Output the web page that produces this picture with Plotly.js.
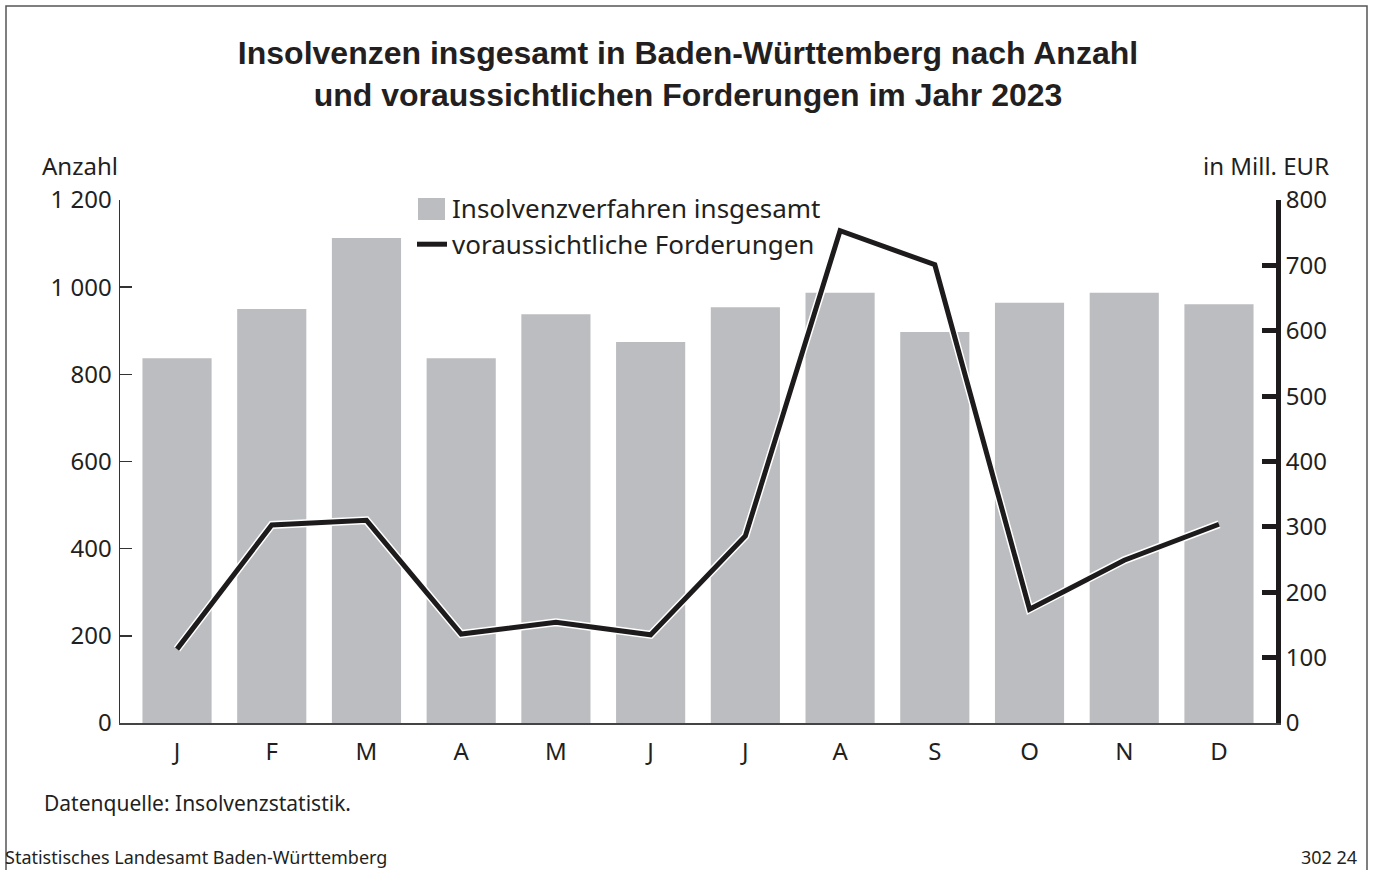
<!DOCTYPE html>
<html>
<head>
<meta charset="utf-8">
<script src="https://cdn.plot.ly/plotly-3.0.1.min.js"></script>
<style>
  html, body { margin: 0; padding: 0; background: #fff; }
  #chart { width: 1375px; height: 870px; }
</style>
</head>
<body>
<div id="chart"></div>
<script>
// ---- data ----
const monthLabels = ["J", "F", "M", "A", "M", "J", "J", "A", "S", "O", "N", "D"];
const insolvencies = [837, 950, 1113, 837, 938, 874, 954, 987, 897, 964, 987, 961];
const claimsMillEUR = [113, 303, 310, 136, 154, 135, 286, 753, 701, 174, 249, 304];
const leftTickVals = [0, 200, 400, 600, 800, 1000, 1200];
const leftTickText = ["0", "200", "400", "600", "800", "1 000", "1 200"];
const rightTickVals = [0, 100, 200, 300, 400, 500, 600, 700, 800];
const rightTickText = ["0", "100", "200", "300", "400", "500", "600", "700", "800"];
const titleLine1 = "Insolvenzen insgesamt in Baden-Württemberg nach Anzahl";
const titleLine2 = "und voraussichtlichen Forderungen im Jahr 2023";

const FONT = "'Noto Sans', 'Open Sans', sans-serif";
const TITLE_FONT = "'Liberation Sans', Arial, sans-serif";
const TXT = "#231f20";
const BAR_COLOR = "#bcbdc1";
const xIdx = monthLabels.map((_, i) => i);

const traces = [
  {
    type: "bar", x: xIdx, y: insolvencies, yaxis: "y",
    name: "Insolvenzverfahren insgesamt",
    marker: { color: BAR_COLOR }, width: 0.73
  },
  {
    type: "scatter", mode: "lines", x: xIdx, y: claimsMillEUR, yaxis: "y2",
    line: { color: "#ffffff", width: 8 }, showlegend: false, hoverinfo: "skip"
  },
  {
    type: "scatter", mode: "lines", x: xIdx, y: claimsMillEUR, yaxis: "y2",
    name: "voraussichtliche Forderungen",
    line: { color: "#1e1b1c", width: 5 }
  }
];

// paper coordinate helpers (plot area: x 120..1276, y 200..723)
const L = 120, R = 99, T = 200, B = 147, W = 1375, H = 870;
const pw = W - L - R, ph = H - T - B;
const px = v => (v - L) / pw;
const py = v => (H - B - v) / ph;

const layout = {
  width: W, height: H,
  margin: { l: L, r: R, t: T, b: B, pad: 0 },
  paper_bgcolor: "#ffffff", plot_bgcolor: "#ffffff",
  font: { family: FONT, size: 24, color: TXT },
  hovermode: false,
  showlegend: true,
  title: {
    text: "<b>" + titleLine1 + "<br>" + titleLine2 + "</b>",
    font: { family: TITLE_FONT, size: 32, color: TXT },
    x: 688 / W, xref: "container", xanchor: "center",
    y: 1 - 64 / H, yref: "container", yanchor: "middle"
  },
  xaxis: {
    range: [-0.602, 11.602],
    tickmode: "array", tickvals: xIdx, ticktext: monthLabels,
    showline: true, linecolor: "#444", linewidth: 2,
    ticks: "", showgrid: false, zeroline: false,
    tickfont: { family: FONT, size: 24, color: TXT },
    ticklabelstandoff: 6, fixedrange: true
  },
  yaxis: {
    range: [0, 1200],
    tickmode: "array", tickvals: leftTickVals, ticktext: leftTickText,
    showline: true, linecolor: "#333", linewidth: 1.5,
    ticks: "inside", ticklen: 12, tickwidth: 1.5, tickcolor: "#333",
    showgrid: false, zeroline: false,
    tickfont: { family: FONT, size: 24, color: TXT },
    ticklabelstandoff: 2, fixedrange: true
  },
  yaxis2: {
    range: [0, 800], overlaying: "y", side: "right",
    tickmode: "array", tickvals: rightTickVals, ticktext: rightTickText,
    showline: true, linecolor: "#1e1b1c", linewidth: 5,
    ticks: "inside", ticklen: 14, tickwidth: 5, tickcolor: "#1e1b1c",
    showgrid: false, zeroline: false,
    tickfont: { family: FONT, size: 24, color: TXT },
    ticklabelstandoff: 0, fixedrange: true
  },
  legend: {
    x: px(412), y: py(184), xanchor: "left", yanchor: "top",
    bgcolor: "rgba(255,255,255,0)", borderwidth: 0,
    font: { family: FONT, size: 26, color: TXT },
    tracegroupgap: 0, itemwidth: 30, traceorder: "normal"
  },
  annotations: [
    { text: "Anzahl", xref: "paper", yref: "paper", x: px(40), y: py(166),
      xanchor: "left", yanchor: "middle", showarrow: false,
      font: { family: FONT, size: 24, color: TXT } },
    { text: "in Mill. EUR", xref: "paper", yref: "paper", x: px(1331), y: py(166),
      xanchor: "right", yanchor: "middle", showarrow: false,
      font: { family: FONT, size: 24, color: TXT } },
    { text: "Datenquelle: Insolvenzstatistik.", xref: "paper", yref: "paper", x: px(42), y: py(803),
      xanchor: "left", yanchor: "middle", showarrow: false,
      font: { family: FONT, size: 21, color: TXT } },
    { text: "Statistisches Landesamt Baden-Württemberg", xref: "paper", yref: "paper", x: px(3), y: py(857),
      xanchor: "left", yanchor: "middle", showarrow: false,
      font: { family: FONT, size: 18, color: TXT } },
    { text: "302 24", xref: "paper", yref: "paper", x: px(1359), y: py(857),
      xanchor: "right", yanchor: "middle", showarrow: false,
      font: { family: FONT, size: 18, color: TXT } }
  ],
  shapes: [
    { type: "path", xref: "paper", yref: "paper",
      path: `M ${px(6)} ${py(875)} L ${px(6)} ${py(6)} L ${px(1367)} ${py(6)} L ${px(1367)} ${py(875)}`,
      line: { color: "#555", width: 1.5 }, layer: "below" },
    // enlarged legend swatch behind the legend's own bar symbol
    { type: "rect", xref: "paper", yref: "paper",
      x0: px(418), x1: px(445), y0: py(220), y1: py(198),
      fillcolor: BAR_COLOR, line: { width: 0 }, layer: "above" }
  ]
};

Plotly.newPlot("chart", traces, layout, { displayModeBar: false, staticPlot: true });
</script>
</body>
</html>
